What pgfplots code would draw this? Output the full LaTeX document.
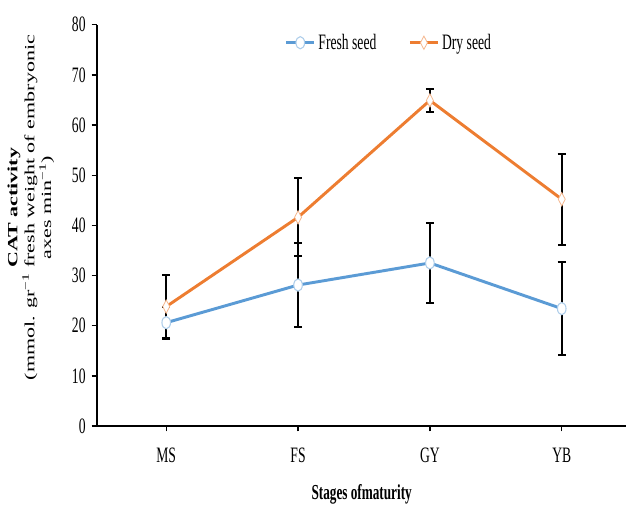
\documentclass[border=0pt]{standalone}
\usepackage{graphicx}
\usepackage{pgfplots}
\pgfplotsset{compat=1.18}
\usepackage{fontspec}
\setmainfont{Liberation Serif}
\newfontfamily\cond[FakeStretch=0.62]{Liberation Serif}
\definecolor{fresh}{RGB}{91,155,213}
\definecolor{dry}{RGB}{237,125,49}
\begin{document}
\begin{tikzpicture}
\useasboundingbox (-72.75pt,-60.75pt) rectangle (397.5pt,319.5pt);
\begin{axis}[
  at={(0,0)}, anchor=south west,
  scale only axis, width=397pt, height=301pt,
  xmin=-0.525, xmax=3.49, ymin=0, ymax=80,
  axis x line*=bottom, axis y line*=left,
  axis line style={line width=1.2pt, black},
  xtick={0,1,2,3}, xticklabels={MS,FS,GY,YB},
  ytick={0,10,...,80},
  tick align=outside, tick style={black, line width=1pt}, major tick length=4pt,
  ticklabel style={font=\cond\fontsize{16.5}{16.5}\selectfont},
  xticklabel style={yshift=-9pt},
  yticklabel style={xshift=-1pt},
  /pgf/number format/assume math mode=true,
  xlabel={\textbf{Stages ofmaturity}},
  every axis x label/.style={at={(axis description cs:0.5,0)}, yshift=-51pt, anchor=center, font=\cond\fontsize{16}{16}\selectfont},
  ylabel={\scalebox{1}[0.64]{\begin{tabular}{@{}c@{}}\textbf{CAT activity}\\(mmol. gr\textsuperscript{−1} fresh weight of embryonic\\axes min\textsuperscript{−1})\end{tabular}}},
  every axis y label/.style={at={(axis description cs:0,0.544)}, xshift=-49.5pt, rotate=90, anchor=center, font=\fontsize{16.5}{19.5}\selectfont},
  legend style={at={(axis description cs:0.552,0.955)}, anchor=center, draw=none, fill=none,
    legend columns=2, font=\cond\fontsize{16.5}{16.5}\selectfont,
    /tikz/every even column/.append style={column sep=22pt}},
  legend image code/.code={\draw[mark repeat=2,mark phase=2,#1] plot coordinates {(0cm,0cm) (0.37cm,0cm) (0.74cm,0cm)};},
  error bars/error bar style={black, line width=1.5pt},
  error bars/error mark options={black, line width=1.5pt, mark size=3pt, rotate=90},
]
\addplot[fresh, line width=2.2pt, mark=*, mark size=4.6pt,
  mark options={fill=white, draw=fresh!50, line width=0.8pt, xscale=0.7},
  error bars/.cd, y dir=both, y explicit]
  coordinates {(0,20.6) +- (0,3.2) (1,28.1) +- (0,8.3) (2,32.5) +- (0,8.0) (3,23.4) +- (0,9.3)};
\addlegendentry{Fresh seed}
\addplot[dry, line width=2.2pt, mark=diamond*, mark size=5pt,
  mark options={fill=white, draw=dry!55, line width=0.6pt, xscale=0.7},
  error bars/.cd, y dir=both, y explicit]
  coordinates {(0,23.8) +- (0,6.3) (1,41.6) +- (0,7.8) (2,64.9) +- (0,2.3) (3,45.2) +- (0,9.1)};
\addlegendentry{Dry seed}
\end{axis}
\end{tikzpicture}
\end{document}
